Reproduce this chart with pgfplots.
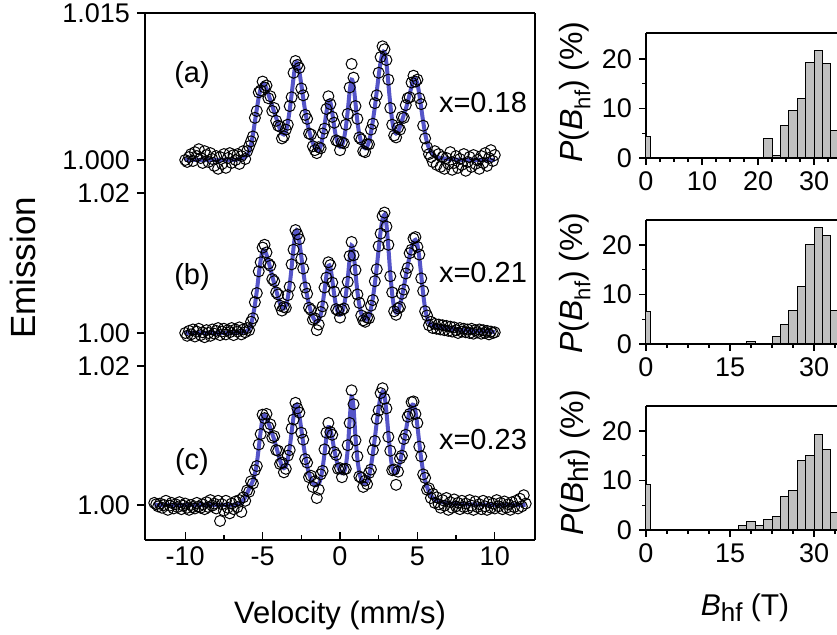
\documentclass[border=0pt]{standalone}
\usepackage{fontspec}
\setmainfont{Liberation Sans}
\usepackage{pgfplots}
\usepackage{pgfplotstable}
\pgfplotsset{compat=1.18}
\definecolor{fitblue}{RGB}{55,55,190}
\definecolor{bargray}{RGB}{192,192,192}

\pgfplotstableread{
v f d
-10.000 1.0000 1.0000
-9.875 1.0000 0.9998
-9.750 1.0000 1.0003
-9.625 1.0000 1.0006
-9.500 1.0000 0.9999
-9.375 1.0000 1.0008
-9.250 1.0000 1.0004
-9.125 1.0000 1.0011
-9.000 1.0000 1.0002
-8.875 1.0000 0.9997
-8.750 1.0000 1.0009
-8.625 1.0000 1.0005
-8.500 1.0000 0.9998
-8.375 1.0000 1.0007
-8.250 1.0000 1.0001
-8.125 1.0000 0.9994
-8.000 1.0000 1.0004
-7.875 1.0000 0.9991
-7.750 1.0000 1.0003
-7.625 1.0000 0.9996
-7.500 1.0000 1.0006
-7.375 1.0000 0.9992
-7.250 1.0000 1.0002
-7.125 1.0000 1.0007
-7.000 1.0000 0.9997
-6.875 1.0000 1.0005
-6.750 1.0000 1.0000
-6.625 1.00005 1.0006
-6.500 1.0001 0.9996
-6.375 1.00015 1.0004
-6.250 1.0002 1.0009
-6.125 1.0003 1.0001
-6.000 1.0005 1.0009
-5.875 1.0009 1.0014
-5.750 1.0016 1.0019
-5.625 1.0026 1.0024
-5.500 1.0039 1.0043
-5.375 1.0052 1.0050
-5.250 1.0064 1.0069
-5.125 1.0073 1.0071
-5.000 1.0078 1.0080
-4.875 1.0077 1.0074
-4.750 1.0073 1.0076
-4.625 1.0067 1.0063
-4.500 1.0061 1.0065
-4.375 1.0055 1.0050
-4.250 1.0049 1.0053
-4.125 1.0043 1.0040
-4.000 1.0037 1.0035
-3.875 1.0031 1.0034
-3.750 1.0027 1.0022
-3.625 1.0026 1.0024
-3.500 1.0029 1.0031
-3.375 1.0038 1.0036
-3.250 1.0051 1.0055
-3.125 1.0067 1.0064
-3.000 1.0084 1.0089
-2.875 1.0098 1.0101
-2.750 1.0099 1.0097
-2.625 1.0090 1.0094
-2.500 1.0077 1.0073
-2.375 1.0063 1.0066
-2.250 1.0050 1.0046
-2.125 1.0039 1.0042
-2.000 1.0030 1.0027
-1.875 1.0023 1.0026
-1.750 1.0017 1.0014
-1.625 1.0013 1.0010
-1.500 1.00105 1.0007
-1.375 1.0010 1.0013
-1.250 1.0014 1.0012
-1.125 1.0023 1.0027
-1.000 1.0035 1.0032
-0.875 1.0049 1.0052
-0.750 1.0059 1.0065
-0.625 1.0059 1.0057
-0.500 1.0048 1.0044
-0.375 1.0034 1.0038
-0.250 1.0023 1.0020
-0.125 1.0016 1.0019
0.000 1.00135 1.0010
0.125 1.0015 1.0018
0.250 1.0021 1.0017
0.375 1.0033 1.0036
0.500 1.0050 1.0047
0.625 1.0070 1.0074
0.750 1.0082 1.0098
0.875 1.0076 1.0084
1.000 1.0058 1.0055
1.125 1.0039 1.0042
1.250 1.0026 1.0023
1.375 1.0018 1.0021
1.500 1.00135 1.0009
1.625 1.0012 1.0008
1.750 1.00135 1.0016
1.875 1.0019 1.0016
2.000 1.0028 1.0031
2.125 1.0040 1.0037
2.250 1.0054 1.0058
2.375 1.0070 1.0066
2.500 1.0086 1.0089
2.625 1.0100 1.0105
2.750 1.0109 1.0116
2.875 1.0110 1.0113
3.000 1.0099 1.0102
3.125 1.0078 1.0082
3.250 1.0057 1.0053
3.375 1.0040 1.0036
3.500 1.0030 1.0025
3.625 1.0027 1.0023
3.750 1.0029 1.0033
3.875 1.0034 1.0031
4.000 1.0040 1.0044
4.125 1.0046 1.0043
4.250 1.0052 1.0056
4.375 1.0059 1.0063
4.500 1.0067 1.0064
4.625 1.0075 1.0079
4.750 1.0081 1.0086
4.875 1.0083 1.0080
5.000 1.0078 1.0082
5.125 1.0067 1.0063
5.250 1.0053 1.0057
5.375 1.0039 1.0035
5.500 1.0027 1.0022
5.625 1.0018 1.0013
5.750 1.0012 1.0006
5.875 1.0008 1.0003
6.000 1.00055 0.9998
6.125 1.0004 1.0009
6.250 1.0003 0.9995
6.375 1.00025 1.0006
6.500 1.0002 0.9993
6.625 1.00018 1.0003
6.750 1.00015 0.9991
6.875 1.00012 1.0002
7.000 1.0001 0.9996
7.125 1.00008 1.0008
7.250 1.00006 0.9990
7.375 1.00005 0.9997
7.500 1.00004 1.0004
7.625 1.00003 0.9992
7.750 1.00002 1.0001
7.875 1.0000 0.9995
8.000 1.0000 1.0006
8.125 1.0000 0.9989
8.250 1.0000 0.9998
8.375 1.0000 1.0003
8.500 1.0000 0.9993
8.625 1.0000 1.0005
8.750 1.0000 0.9996
8.875 1.0000 1.0000
9.000 1.0000 0.9991
9.125 1.0000 1.0004
9.250 1.0000 0.9997
9.375 1.0000 1.0007
9.500 1.0000 0.9994
9.625 1.0000 1.0002
9.750 1.0000 1.0010
9.875 1.0000 0.9999
10.000 1.0000 1.0005
}\tabA

\pgfplotstableread{
v f d
-10.000 1.0000 1.0000
-9.875 1.0000 0.9996
-9.750 1.0000 1.0003
-9.625 1.0000 0.9998
-9.500 1.0000 1.0005
-9.375 1.0000 0.9995
-9.250 1.0000 1.0002
-9.125 1.0000 1.0006
-9.000 1.0000 0.9997
-8.875 1.0000 1.0001
-8.750 1.0000 0.9994
-8.625 1.0000 1.0004
-8.500 1.0000 1.0000
-8.375 1.0000 0.9996
-8.250 1.0000 1.0005
-8.125 1.0000 0.9999
-8.000 1.0000 1.0003
-7.875 1.0000 1.0007
-7.750 1.0000 0.9997
-7.625 1.0000 1.0002
-7.500 1.0000 1.0006
-7.375 1.0000 0.9998
-7.250 1.0000 1.0004
-7.125 1.0000 1.0001
-7.000 1.0000 1.0007
-6.875 1.0000 0.9997
-6.750 1.0000 1.0005
-6.625 1.0000 1.0002
-6.500 1.0001 1.0008
-6.375 1.0001 0.9998
-6.250 1.00015 1.0005
-6.125 1.0002 1.0001
-6.000 1.0003 1.0007
-5.875 1.0006 1.0004
-5.750 1.0012 1.0016
-5.625 1.0024 1.0021
-5.500 1.0040 1.0044
-5.375 1.0060 1.0057
-5.250 1.0083 1.0088
-5.125 1.0104 1.0101
-5.000 1.0117 1.0122
-4.875 1.0118 1.0126
-4.750 1.0112 1.0115
-4.625 1.0103 1.0099
-4.500 1.0092 1.0096
-4.375 1.0081 1.0077
-4.250 1.0071 1.0074
-4.125 1.0061 1.0058
-4.000 1.0051 1.0055
-3.875 1.0042 1.0039
-3.750 1.0036 1.0032
-3.625 1.0035 1.0037
-3.500 1.0039 1.0036
-3.375 1.0050 1.0054
-3.250 1.0069 1.0066
-3.125 1.0094 1.0098
-3.000 1.0122 1.0119
-2.875 1.0144 1.0147
-2.750 1.0145 1.0141
-2.625 1.0130 1.0134
-2.500 1.0109 1.0106
-2.375 1.0088 1.0092
-2.250 1.0069 1.0065
-2.125 1.0053 1.0056
-2.000 1.0040 1.0036
-1.875 1.0030 1.0033
-1.750 1.0023 1.0019
-1.625 1.0018 1.0021
-1.500 1.0016 1.0004
-1.375 1.0018 1.0012
-1.250 1.0026 1.0030
-1.125 1.0041 1.0038
-1.000 1.0061 1.0065
-0.875 1.0082 1.0079
-0.750 1.0096 1.0101
-0.625 1.0094 1.0097
-0.500 1.0076 1.0072
-0.375 1.0055 1.0059
-0.250 1.0038 1.0034
-0.125 1.0029 1.0032
0.000 1.0026 1.0022
0.125 1.0029 1.0033
0.250 1.0038 1.0035
0.375 1.0054 1.0058
0.500 1.0077 1.0073
0.625 1.0106 1.0110
0.750 1.0125 1.0130
0.875 1.0114 1.0111
1.000 1.0086 1.0090
1.125 1.0059 1.0055
1.250 1.0040 1.0043
1.375 1.0028 1.0025
1.500 1.0022 1.0018
1.625 1.0019 1.0016
1.750 1.0019 1.0022
1.875 1.0024 1.0021
2.000 1.0035 1.0039
2.125 1.0050 1.0047
2.250 1.0070 1.0074
2.375 1.0094 1.0091
2.500 1.0120 1.0124
2.625 1.0145 1.0142
2.750 1.0163 1.0167
2.875 1.0169 1.0172
3.000 1.0155 1.0152
3.125 1.0122 1.0126
3.250 1.0085 1.0081
3.375 1.0055 1.0058
3.500 1.0036 1.0031
3.625 1.0029 1.0026
3.750 1.0031 1.0035
3.875 1.0040 1.0037
4.000 1.0052 1.0056
4.125 1.0066 1.0062
4.250 1.0081 1.0085
4.375 1.0096 1.0093
4.500 1.0110 1.0114
4.625 1.0122 1.0119
4.750 1.0130 1.0135
4.875 1.0133 1.0137
5.000 1.0126 1.0123
5.125 1.0108 1.0112
5.250 1.0082 1.0078
5.375 1.0056 1.0060
5.500 1.0035 1.0031
5.625 1.0022 1.0025
5.750 1.0015 1.0011
5.875 1.0012 1.0016
6.000 1.00105 1.0007
6.125 1.0010 1.0013
6.250 1.00095 1.0006
6.375 1.0009 1.0012
6.500 1.00085 1.0005
6.625 1.0008 1.0011
6.750 1.00075 1.0004
6.875 1.0007 1.0010
7.000 1.00065 1.0003
7.125 1.0006 1.0009
7.250 1.00057 1.0002
7.375 1.00053 1.0008
7.500 1.0005 1.0004
7.625 1.00047 1.0000
7.750 1.00044 1.0007
7.875 1.00042 1.0002
8.000 1.0004 1.0006
8.125 1.00037 1.0001
8.250 1.00034 1.0005
8.375 1.00032 1.0000
8.500 1.0003 1.0006
8.625 1.00029 0.9999
8.750 1.00027 1.0004
8.875 1.00026 1.0001
9.000 1.00025 1.0005
9.125 1.00024 0.9999
9.250 1.00022 1.0004
9.375 1.00021 1.0000
9.500 1.0002 1.0003
9.625 1.00019 0.9998
9.750 1.00017 1.0002
9.875 1.00016 1.0000
10.000 1.00015 1.0001
}\tabB

\pgfplotstableread{
v f d
-12.000 1.0000 1.0003
-11.875 1.0000 1.0001
-11.750 1.0000 0.9998
-11.625 1.0000 1.0002
-11.500 1.0000 0.9996
-11.375 1.0000 1.0000
-11.250 1.0000 1.0006
-11.125 1.0000 0.9993
-11.000 1.0000 0.9999
-10.875 1.0000 1.0003
-10.750 1.0000 0.9995
-10.625 1.0000 1.0001
-10.500 1.0000 0.9997
-10.375 1.0000 1.0004
-10.250 1.0000 0.9994
-10.125 1.0000 0.9999
-10.000 1.0000 1.0002
-9.875 1.0000 0.9996
-9.750 1.0000 0.9993
-9.625 1.0000 1.0000
-9.500 1.0000 0.9997
-9.375 1.0000 0.9995
-9.250 1.0000 1.0003
-9.125 1.0000 0.9998
-9.000 1.0000 0.9996
-8.875 1.0000 1.0001
-8.750 1.0000 0.9994
-8.625 1.0000 1.0004
-8.500 1.0000 0.9997
-8.375 1.0000 1.0007
-8.250 1.0000 0.9999
-8.125 1.0000 1.0002
-8.000 1.0000 0.9995
-7.875 1.0000 1.0006
-7.750 1.0000 0.9977
-7.625 1.0000 1.0001
-7.500 1.0000 0.9992
-7.375 1.0000 1.0006
-7.250 1.0000 0.9996
-7.125 1.0000 0.9988
-7.000 1.0000 1.0002
-6.875 1.0000 0.9994
-6.750 1.0000 1.0005
-6.625 1.0001 0.9997
-6.500 1.0002 1.0007
-6.375 1.0004 0.9990
-6.250 1.0007 1.0011
-6.125 1.0011 1.0006
-6.000 1.0017 1.0021
-5.875 1.0023 1.0019
-5.750 1.0029 1.0034
-5.625 1.0035 1.0031
-5.500 1.0045 1.0050
-5.375 1.0060 1.0056
-5.250 1.0082 1.0087
-5.125 1.0106 1.0102
-5.000 1.0125 1.0130
-4.875 1.0129 1.0125
-4.750 1.0125 1.0131
-4.625 1.0118 1.0112
-4.500 1.0110 1.0116
-4.375 1.0102 1.0097
-4.250 1.0094 1.0099
-4.125 1.0084 1.0079
-4.000 1.0074 1.0078
-3.875 1.0064 1.0059
-3.750 1.0056 1.0061
-3.625 1.0053 1.0047
-3.500 1.0056 1.0052
-3.375 1.0066 1.0071
-3.250 1.0083 1.0079
-3.125 1.0105 1.0110
-3.000 1.0127 1.0123
-2.875 1.0143 1.0147
-2.750 1.0142 1.0139
-2.625 1.0128 1.0133
-2.500 1.0109 1.0104
-2.375 1.0089 1.0094
-2.250 1.0071 1.0066
-2.125 1.0056 1.0061
-2.000 1.0045 1.0040
-1.875 1.0037 1.0042
-1.750 1.0032 1.0026
-1.625 1.0029 1.0034
-1.500 1.00285 1.0010
-1.375 1.0030 1.0022
-1.250 1.0038 1.0044
-1.125 1.0053 1.0049
-1.000 1.0074 1.0080
-0.875 1.0098 1.0104
-0.750 1.0112 1.0118
-0.625 1.0109 1.0105
-0.500 1.0096 1.0101
-0.375 1.0080 1.0076
-0.250 1.0067 1.0072
-0.125 1.0056 1.0052
0.000 1.0049 1.0053
0.125 1.0046 1.0040
0.250 1.0047 1.0051
0.375 1.0056 1.0052
0.500 1.0080 1.0086
0.625 1.0122 1.0118
0.750 1.0156 1.0165
0.875 1.0140 1.0145
1.000 1.0098 1.0093
1.125 1.0066 1.0070
1.250 1.0047 1.0041
1.375 1.0036 1.0039
1.500 1.0032 1.0026
1.625 1.0031 1.0035
1.750 1.0034 1.0030
1.875 1.0042 1.0046
2.000 1.0056 1.0051
2.125 1.0074 1.0079
2.250 1.0096 1.0092
2.375 1.0119 1.0124
2.500 1.0140 1.0136
2.625 1.0156 1.0161
2.750 1.0163 1.0168
2.875 1.0157 1.0153
3.000 1.0134 1.0139
3.125 1.0103 1.0098
3.250 1.0074 1.0078
3.375 1.0054 1.0050
3.500 1.0046 1.0051
3.625 1.0046 1.0029
3.750 1.0052 1.0048
3.875 1.0062 1.0067
4.000 1.0075 1.0071
4.125 1.0090 1.0095
4.250 1.0106 1.0101
4.375 1.0122 1.0127
4.500 1.0135 1.0131
4.625 1.0143 1.0148
4.750 1.0144 1.0149
4.875 1.0135 1.0131
5.000 1.0114 1.0118
5.125 1.0089 1.0084
5.250 1.0066 1.0070
5.375 1.0048 1.0044
5.500 1.0035 1.0039
5.625 1.0026 1.0022
5.750 1.0019 1.0024
5.875 1.0014 1.0010
6.000 1.0010 1.0016
6.125 1.0008 1.0003
6.250 1.00065 1.0011
6.375 1.00055 1.0001
6.500 1.00045 0.9996
6.625 1.0004 1.0007
6.750 1.00035 0.9999
6.875 1.0003 1.0010
7.000 1.00025 0.9993
7.125 1.00022 1.0004
7.250 1.0002 0.9996
7.375 1.00018 1.0008
7.500 1.00015 0.9998
7.625 1.00014 1.0003
7.750 1.00013 0.9994
7.875 1.00012 1.0006
8.000 1.0001 0.9997
8.125 1.0001 1.0002
8.250 1.00009 0.9995
8.375 1.00008 1.0007
8.500 1.00008 0.9999
8.625 1.00007 0.9993
8.750 1.00007 1.0005
8.875 1.00006 0.9997
9.000 1.00005 1.0001
9.125 1.00005 0.9994
9.250 1.00004 1.0006
9.375 1.00004 0.9998
9.500 1.00003 0.9993
9.625 1.00003 1.0004
9.750 1.00002 0.9996
9.875 1.00002 1.0002
10.000 1.0000 0.9995
10.125 1.0000 1.0007
10.250 1.0000 0.9998
10.375 1.0000 1.0003
10.500 1.0000 0.9994
10.625 1.0000 1.0005
10.750 1.0000 0.9996
10.875 1.0000 1.0001
11.000 1.0000 0.9993
11.125 1.0000 1.0004
11.250 1.0000 0.9997
11.375 1.0000 1.0006
11.500 1.0000 0.9995
11.625 1.0000 1.0009
11.750 1.0000 0.9998
11.875 1.0000 1.0014
12.000 1.0000 1.0002
}\tabC

\pgfplotsset{
  spec/.style={scale only axis, width=195pt, xmin=-12.6, xmax=12.6,
    axis line style={line width=1pt},
    every tick/.style={black, line width=0.7pt},
    major tick length=4pt, minor tick length=2.5pt,
    tick label style={font=\fontsize{13.5}{15}\selectfont}},
  hist/.style={scale only axis, width=95.5pt, xmin=0, xmax=34.1, ymin=0,
    axis x line*=box, axis y line*=left, xtick pos=bottom,
    tick align=outside,
    axis line style={line width=1pt},
    every tick/.style={black, line width=0.7pt},
    major tick length=3.5pt, minor tick length=2pt,
    ytick={0,10,20}, yticklabels={0,10,20}, minor ytick={5,15},
    tick label style={font=\fontsize{13.5}{15}\selectfont}},
  datapts/.style={only marks, mark=o, mark size=2.75pt, mark options={black, line width=0.5pt}},
  fitline/.style={fitblue, line width=2pt, opacity=0.85, smooth, no marks},
  histbar/.style={ybar, bar width=1.5, bar shift=0pt, fill=bargray, draw=black, line width=0.5pt}
}

\begin{document}
\begin{tikzpicture}
\useasboundingbox (0pt,0pt) rectangle (418.5pt,317.5pt);

% (a)
\begin{axis}[spec, at={(72.5pt,223pt)}, anchor=south west, height=88pt,
  ymin=0.99704, ymax=1.015,
  axis x line*=top, axis y line*=box, xtick=\empty,
  ytick pos=left, ytick align=outside,
  ytick={1.000,1.015}, yticklabels={1.000,1.015}]
\addplot[datapts] table[x=v,y=d]{\tabA};
\addplot[fitline] table[x=v,y=f]{\tabA};
\end{axis}

% (b)
\begin{axis}[spec, at={(72.5pt,135.5pt)}, anchor=south west, height=87.5pt,
  ymin=0.99557, ymax=1.02057,
  axis x line=none, axis y line*=box, xtick=\empty,
  ytick pos=left, ytick align=outside,
  ytick={1.00,1.02}, yticklabels={1.00,1.02}]
\addplot[datapts] table[x=v,y=d]{\tabB};
\addplot[fitline] table[x=v,y=f]{\tabB};
\end{axis}

% (c)
\begin{axis}[spec, at={(72.5pt,47.5pt)}, anchor=south west, height=88pt,
  ymin=0.99496, ymax=1.02029,
  axis x line*=bottom, axis y line*=box,
  xtick={-10,-5,0,5,10}, xticklabels={-10,-5,0,5,10},
  minor xtick={-7.5,-2.5,2.5,7.5}, xtick pos=bottom, xtick align=inside,
  ytick pos=left, ytick align=outside,
  ytick={1.00,1.02}, yticklabels={1.00,1.02}]
\addplot[datapts] table[x=v,y=d]{\tabC};
\addplot[fitline] table[x=v,y=f]{\tabC};
\end{axis}

% histograms
\begin{axis}[hist, at={(323pt,238.5pt)}, anchor=south west, height=62.5pt, ymax=25.25,
  xtick={0,10,20,30}, xticklabels={0,10,20,30},
  minor xtick={2.5,5,7.5,12.5,15,17.5,22.5,25,27.5,32.5}]
\addplot[histbar] coordinates {(0,4.3) (20.25,0.15) (21.75,4.0) (23.25,0.5) (24.75,6.5) (26.25,9.6) (27.75,12.0) (29.25,19.3) (30.75,21.7) (32.25,19.1) (33.75,5.6)};
\end{axis}

\begin{axis}[hist, at={(323pt,145.5pt)}, anchor=south west, height=62pt, ymax=25.05,
  xtick={0,15,30}, xticklabels={0,15,30},
  minor xtick={3.75,7.5,11.25,18.75,22.5,26.25,33.75}]
\addplot[histbar] coordinates {(0,6.5) (18.75,0.5) (23.25,1.6) (24.75,3.9) (26.25,6.7) (27.75,11.6) (29.25,20.1) (30.75,23.6) (32.25,21.9) (33.75,6.8)};
\end{axis}

\begin{axis}[hist, at={(323pt,52.5pt)}, anchor=south west, height=62pt, ymax=25.05,
  xtick={0,15,30}, xticklabels={0,15,30},
  minor xtick={3.75,7.5,11.25,18.75,22.5,26.25,33.75}]
\addplot[histbar] coordinates {(0,9.1) (17.25,1.0) (18.75,1.7) (20.25,0.95) (21.75,2.2) (23.25,2.8) (24.75,6.7) (26.25,7.9) (27.75,14.1) (29.25,15.0) (30.75,19.3) (32.25,16.3) (33.75,3.5)};
\end{axis}

% labels
\begin{scope}[every node/.style={inner sep=0pt}]
\node[font=\fontsize{14.5}{17}\selectfont] at (96pt,280pt) {(a)};
\node[font=\fontsize{14.5}{17}\selectfont] at (241.5pt,266pt) {x=0.18};
\node[font=\fontsize{14.5}{17}\selectfont] at (96pt,179pt) {(b)};
\node[font=\fontsize{14.5}{17}\selectfont] at (241.5pt,181pt) {x=0.21};
\node[font=\fontsize{14.5}{17}\selectfont] at (96pt,86.5pt) {(c)};
\node[font=\fontsize{14.5}{17}\selectfont] at (241.5pt,97.5pt) {x=0.23};
\node[rotate=90, font=\fontsize{17.5}{20}\selectfont] at (11.5pt,183.5pt) {Emission};
\node[font=\fontsize{15.5}{18}\selectfont] at (170pt,10pt) {Velocity (mm/s)};
\node[rotate=90, font=\fontsize{16}{18}\selectfont] at (287.5pt,271.5pt) {\textit{P}(\textit{B}\raisebox{-0.45ex}{\fontsize{11}{12}\selectfont hf}) (\%)};
\node[rotate=90, font=\fontsize{16}{18}\selectfont] at (287.5pt,176pt) {\textit{P}(\textit{B}\raisebox{-0.45ex}{\fontsize{11}{12}\selectfont hf}) (\%)};
\node[rotate=90, font=\fontsize{16}{18}\selectfont] at (287.5pt,86pt) {\textit{P}(\textit{B}\raisebox{-0.3ex}{\fontsize{14}{16}\selectfont hf}) (\%)};
\node[font=\fontsize{15}{17}\selectfont] at (372.5pt,13.5pt) {\textit{B}\raisebox{-0.35ex}{\fontsize{13}{15}\selectfont hf} (T)};
\end{scope}
\end{tikzpicture}
\end{document}
